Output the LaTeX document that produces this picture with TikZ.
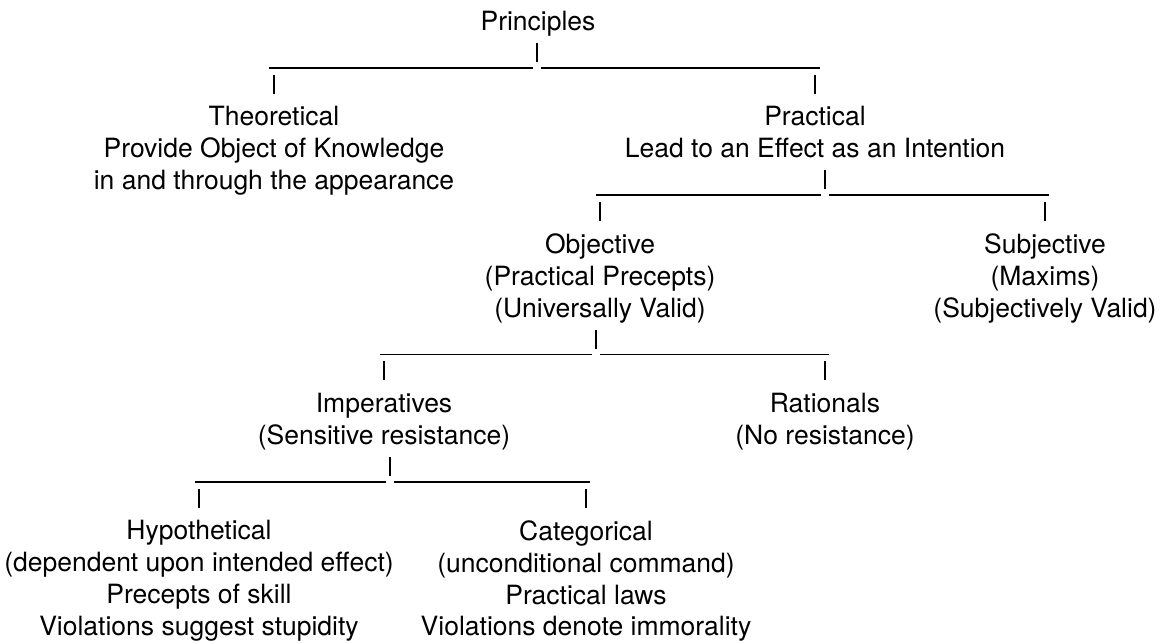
\documentclass[tikz,border=0pt]{standalone}
\usepackage{fontspec}
\setmainfont{TeX Gyre Heros}
\usepackage{tikz}
\tikzset{
  main node/.style={align=center,anchor=north,inner sep=0pt,font=\fontsize{26.5}{31.85}\selectfont},
  stem/.style={line width=2.2pt},
  rule/.style={line width=1.5pt}
}

\begin{document}
\begin{tikzpicture}[x=1pt,y=1pt]
  \useasboundingbox (0,0) rectangle (1174,-644);
  \node [main node] (princ) at (538,-10.7) {Principles};
  \node [main node] (theo) at (274,-106.25) {Theoretical\\Provide Object of Knowledge\\in and through the appearance};
  \node [main node] (prac) at (815,-106.25) {Practical\\Lead to an Effect as an Intention};
  \node [main node] (obj) at (600,-233.65) {Objective\\(Practical Precepts)\\(Universally Valid)};
  \node [main node] (subj) at (1045,-233.65) {Subjective\\(Maxims)\\(Subjectively Valid)};
  \node [main node] (imp) at (384,-392.9) {Imperatives\\(Sensitive resistance)};
  \node [main node] (rat) at (825,-392.9) {Rationals\\(No resistance)};
  \node [main node] (hyp) at (199,-520.3) {Hypothetical\\(dependent upon intended effect)\\Precepts of skill\\Violations suggest stupidity};
  \node [main node] (cat) at (586,-520.3) {Categorical\\(unconditional command)\\Practical laws\\Violations denote immorality};

  % junctions under each parent
  \coordinate (j1) at (537,-67.85);
  \coordinate (j2) at (825,-195.25);
  \coordinate (j3) at (596,-354.5);
  \coordinate (j4) at (390,-481.9);

  % Principles -> Theoretical, Practical
  \draw [stem] ([yshift=6pt]j1) -- ++(0,19);
  \draw [rule,shorten <=-5pt] (theo |- j1) -- ([xshift=-4pt]j1);
  \draw [rule,shorten >=-5pt] ([xshift=4pt]j1) -- (prac |- j1);
  \draw [stem] ([yshift=12.5pt]theo.north) -- ++(0,19);
  \draw [stem] ([yshift=12.5pt]prac.north) -- ++(0,19);

  % Practical -> Objective, Subjective
  \draw [stem] ([yshift=6pt]j2) -- ++(0,19);
  \draw [rule,shorten <=-4pt] (obj |- j2) -- ([xshift=-4pt]j2);
  \draw [rule,shorten >=-4pt] ([xshift=4pt]j2) -- (subj |- j2);
  \draw [stem] ([yshift=12.5pt]obj.north) -- ++(0,19);
  \draw [stem] ([yshift=12.5pt]subj.north) -- ++(0,19);

  % Objective -> Imperatives, Rationals
  \draw [stem] ([yshift=6pt]j3) -- ++(0,19);
  \draw [rule,shorten <=-4pt] (imp |- j3) -- ([xshift=-4pt]j3);
  \draw [rule,shorten >=-4pt] ([xshift=4pt]j3) -- (rat |- j3);
  \draw [stem] ([yshift=12.5pt]imp.north) -- ++(0,19);
  \draw [stem] ([yshift=12.5pt]rat.north) -- ++(0,19);

  % Imperatives -> Hypothetical, Categorical
  \draw [stem] ([yshift=6pt]j4) -- ++(0,19);
  \draw [rule,shorten <=-4pt] (hyp |- j4) -- ([xshift=-4pt]j4);
  \draw [rule,shorten >=-4pt] ([xshift=4pt]j4) -- (cat |- j4);
  \draw [stem] ([yshift=12.5pt]hyp.north) -- ++(0,19);
  \draw [stem] ([yshift=12.5pt]cat.north) -- ++(0,19);
\end{tikzpicture}
\end{document}
